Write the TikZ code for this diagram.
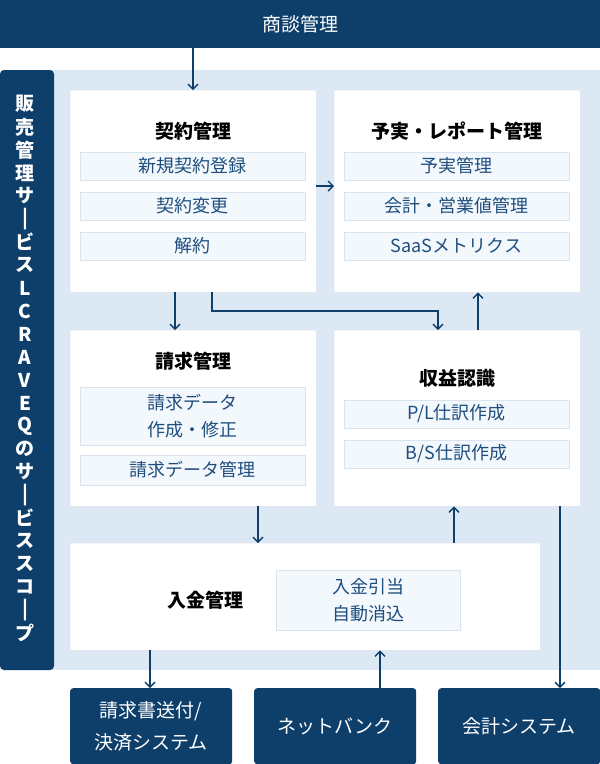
\documentclass[tikz,border=0pt]{standalone}
\usepackage{fontspec}
\setmainfont{Noto Sans CJK JP}
\usetikzlibrary{arrows.meta}
\definecolor{navy}{HTML}{0E3F6B}
\definecolor{bgl}{HTML}{DCE8F3}
\definecolor{subf}{HTML}{F3F8FD}
\definecolor{subd}{HTML}{D9E4EE}
\definecolor{subt}{HTML}{1F4E7E}
\tikzset{
 x=1pt,y=-1pt,
 card/.style={draw=black!10,fill=white,rounded corners=1pt},
 sub/.style={draw=subd,fill=subf,text=subt,font=\fontsize{18}{24}\selectfont,align=center,inner sep=0pt},
 ttl/.style={font=\fontsize{19}{22}\selectfont\bfseries,text=black},
 conn/.style={draw=navy,line width=1.4pt,-{Straight Barb[length=5pt,width=10pt,line width=1.4pt]}},
 dark/.style={fill=navy,draw=none},
 vch/.style={text=white,font=\fontsize{19}{19}\selectfont\bfseries,inner sep=0pt},
 wt/.style={text=white,font=\fontsize{19}{32}\selectfont},
}
\begin{document}
\begin{tikzpicture}
\useasboundingbox (0,0) rectangle (600,764);
\fill[white] (0,0) rectangle (600,764);
% top bar
\node[dark,wt,minimum width=600pt,minimum height=48pt,anchor=north west] (top) at (0,0) {商談管理};
% background region
\fill[bgl] (50,70) rectangle (600,670);
\fill[navy,rounded corners=4pt] (0,70) rectangle (54,670);
\fill[navy] (20,70) rectangle (50,670);
% vertical text
\foreach \c [count=\i from 0] in {販,売,管,理,サ,|,ビ,ス,L,C,R,A,V,E,Q,の,サ,|,ビ,ス,ス,コ,|,プ}{
  \pgfmathsetmacro{\yy}{104+\i*23}
  \ifx\c|
    \fill[white] (23.5,\yy-8) rectangle (26.5,\yy+8);
  \else\ifx\c L
    \node[vch,rotate=-90] at (25,\yy) {(};
  \else\ifx\c Q
    \node[vch,rotate=-90] at (25,\yy) {)};
  \else
    \node[vch] at (25,\yy) {\c};
  \fi\fi\fi
}
% cards
\node[card,minimum width=246pt,minimum height=202pt,anchor=north west] (k) at (70,90) {};
\node[card,minimum width=246pt,minimum height=202pt,anchor=north west] (y) at (334,90) {};
\node[card,minimum width=246pt,minimum height=176pt,anchor=north west] (s) at (70,330) {};
\node[card,minimum width=246pt,minimum height=176pt,anchor=north west] (r) at (334,330) {};
\node[card,minimum width=470pt,minimum height=107pt,anchor=north west] (n) at (70,543) {};
% titles
\node[ttl] (kt) at (193,131) {契約管理};
\node[ttl] (yt) at (457,131) {予実・レポート管理};
\node[ttl] (st) at (193,361) {請求管理};
\node[ttl] (rt) at (457,378) {収益認識};
\node[ttl] (nt) at (205,600) {入金管理};
% subs
\node[sub,minimum width=225pt,minimum height=28pt] (k1) at (192.5,166) {新規契約登録};
\node[sub,minimum width=225pt,minimum height=28pt] (k2) at (192.5,206) {契約変更};
\node[sub,minimum width=225pt,minimum height=28pt] (k3) at (192.5,246) {解約};
\node[sub,minimum width=225pt,minimum height=28pt] (y1) at (456.5,166) {予実管理};
\node[sub,minimum width=225pt,minimum height=28pt] (y2) at (456.5,206) {会計・営業値管理};
\node[sub,minimum width=225pt,minimum height=28pt] (y3) at (456.5,246) {SaaSメトリクス};
\node[sub,minimum width=225pt,minimum height=58pt,font=\fontsize{18}{27}\selectfont] (s1) at (192.5,416) {請求データ\\作成・修正};
\node[sub,minimum width=225pt,minimum height=30pt] (s2) at (192.5,470) {請求データ管理};
\node[sub,minimum width=225pt,minimum height=28pt] (r1) at (456.5,414) {P/L仕訳作成};
\node[sub,minimum width=225pt,minimum height=28pt] (r2) at (456.5,454) {B/S仕訳作成};
\node[sub,minimum width=184pt,minimum height=60pt,font=\fontsize{18}{27}\selectfont] (n1) at (368,600) {入金引当\\自動消込};
% bottom boxes
\node[dark,wt,rounded corners=3pt,minimum width=162pt,minimum height=76pt,anchor=north west,align=center] (b1) at (70,688) {請求書送付/\\決済システム};
\node[dark,wt,rounded corners=3pt,minimum width=162pt,minimum height=76pt,anchor=north west] (b2) at (254,688) {ネットバンク};
\node[dark,wt,rounded corners=3pt,minimum width=162pt,minimum height=76pt,anchor=north west] (b3) at (438,688) {会計システム};
% connectors
\draw[conn] (top.south -| 193,0) -- (k.north -| 193,0);
\draw[conn] (k.east |- 0,186) -- (y.west |- 0,186);
\draw[conn] (k.south -| 175,0) -- (s.north -| 175,0);
\draw[conn] (k.south -| 212,0) -- (212,311) -- (438,311) -- (r.north -| 438,0);
\draw[conn] (r.north -| 478,0) -- (y.south -| 478,0);
\draw[conn] (s.south -| 258,0) -- (n.north -| 258,0);
\draw[conn] (n.north -| 454,0) -- (r.south -| 454,0);
\draw[conn] (r.south -| 560,0) -- (b3.north -| 560,0);
\draw[conn] (n.south -| 150,0) -- (b1.north -| 150,0);
\draw[conn] (b2.north -| 380,0) -- (n.south -| 380,0);
\end{tikzpicture}
\end{document}
